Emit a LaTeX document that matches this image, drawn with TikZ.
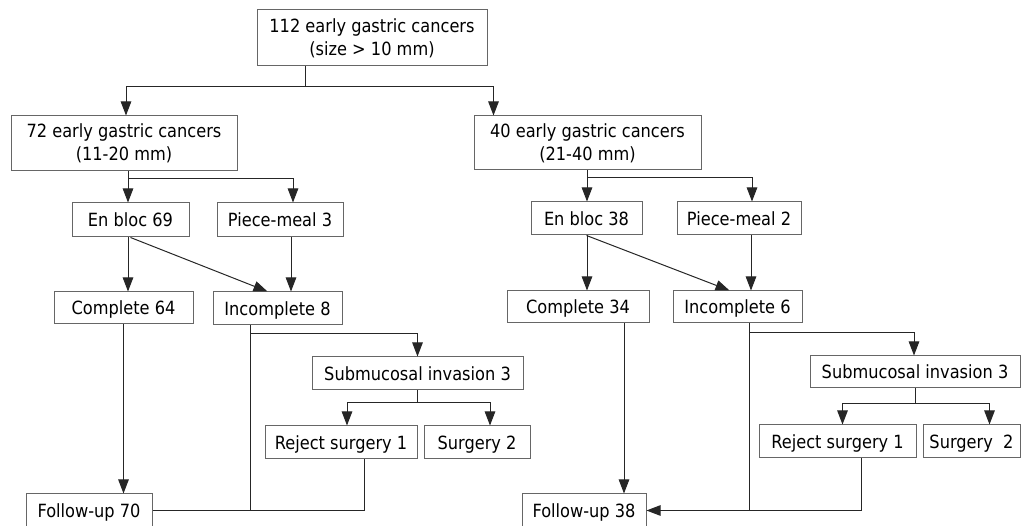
\documentclass[tikz,border=0pt]{standalone}
\usepackage{fontspec}
\setmainfont{DejaVu Sans}[FakeStretch=0.89]
\usetikzlibrary{arrows.meta}

\tikzset{
  flowbox/.style={draw=black!60,line width=1pt,inner sep=0pt,font=\fontsize{18.2}{23}\selectfont},
  onebox/.style={flowbox,text height=13.3pt,text depth=0pt},
  twobox/.style={flowbox,align=center},
  link/.style={black!85,line width=1pt}
}

\begin{document}
\begin{tikzpicture}[x=1pt,y=-1pt,>={Triangle[length=14pt,width=10.5pt]}]
  \useasboundingbox (0,0) rectangle (1021,526);
  \clip (0,0) rectangle (1021,526);
  % first two levels
  \node[twobox,minimum width=230,minimum height=56] (top) at (372,38) {112 early gastric cancers\\(size > 10 mm)};
  \node[twobox,minimum width=226,minimum height=55] (small) at (124,143.5) {72 early gastric cancers\\(11-20 mm)};
  \node[twobox,minimum width=227,minimum height=54] (large) at (587.5,143) {40 early gastric cancers\\(21-40 mm)};
  % left branch
  \node[onebox,minimum width=117,minimum height=34] (enbloc69) at (130.5,220) {En bloc 69};
  \node[onebox,minimum width=126,minimum height=34] (piece3) at (280,220) {Piece-meal 3};
  \node[onebox,minimum width=139,minimum height=32] (comp64) at (123.5,308) {Complete 64};
  \node[onebox,minimum width=129,minimum height=33] (incomp8) at (277.5,308.5) {Incomplete 8};
  \node[onebox,minimum width=211,minimum height=33] (subm3l) at (417.5,373.5) {Submucosal invasion 3};
  \node[onebox,minimum width=152,minimum height=33] (reject1l) at (341,442.5) {Reject surgery 1};
  \node[onebox,minimum width=106,minimum height=33] (surg2l) at (477,442.5) {Surgery 2};
  \node[onebox,minimum width=126,minimum height=33] (fu70) at (89,510.5) {Follow-up 70};
  % right branch
  \node[onebox,minimum width=111,minimum height=33] (enbloc38) at (586.5,218.5) {En bloc 38};
  \node[onebox,minimum width=124,minimum height=33] (piece2) at (739,218.5) {Piece-meal 2};
  \node[onebox,minimum width=142,minimum height=32] (comp34) at (578,307) {Complete 34};
  \node[onebox,minimum width=129,minimum height=32] (incomp6) at (737.5,307) {Incomplete 6};
  \node[onebox,minimum width=210,minimum height=32] (subm3r) at (915,372) {Submucosal invasion 3};
  \node[onebox,minimum width=157,minimum height=33] (reject1r) at (837.5,441.5) {Reject surgery 1};
  \node[onebox,minimum width=97,minimum height=33] (surg2r) at (971.5,441.5) {Surgery~~2};
  \node[onebox,minimum width=124,minimum height=33] (fu38) at (584,510.5) {Follow-up 38};

  % split of the 112 cases
  \coordinate (s0) at (305,87);
  \draw[link] (s0 |- top.south) -- (s0);
  \draw[link,->] (s0) -| ([xshift=2pt]small.north);
  \draw[link,->] (s0) -| ([xshift=20pt]large.north west);

  % 11-20 mm
  \coordinate (s1) at (128,179);
  \draw[link] (s1 |- small.south) -- (s1);
  \draw[link,->] (s1) -- (s1 |- enbloc69.north);
  \draw[link,->] (s1) -| ([xshift=13pt]piece3.north);
  \draw[link,->] (enbloc69.south -| s1) -- (comp64.north -| s1);
  \draw[link,->] (enbloc69.south) -- ([xshift=-10pt]incomp8.north);
  \draw[link,->] ([xshift=11pt]piece3.south) -- ([xshift=11pt]piece3.south |- incomp8.north);
  \draw[link,->] (comp64.south) -- (comp64.south |- fu70.north);
  \coordinate (s2) at (250,334);
  \draw[link] (s2 |- incomp8.south) -- (s2 |- fu70.east);
  \draw[link,->] (s2) -| (subm3l.north);
  \coordinate (s3) at (417,403);
  \draw[link] (s3 |- subm3l.south) -- (s3);
  \draw[link,->] (s3) -| ([xshift=6pt]reject1l.north);
  \draw[link,->] (s3) -| ([xshift=13pt]surg2l.north);
  \draw[link] ([xshift=23pt]reject1l.south) |- (fu70.east);

  % 21-40 mm
  \coordinate (s4) at (587,178);
  \draw[link] (s4 |- large.south) -- (s4);
  \draw[link,->] (s4) -- (s4 |- enbloc38.north);
  \draw[link,->] (s4) -| ([xshift=13pt]piece2.north);
  \draw[link,->] (enbloc38.south -| s4) -- (comp34.north -| s4);
  \draw[link,->] (enbloc38.south) -- ([xshift=-8pt]incomp6.north);
  \draw[link,->] ([xshift=12pt]piece2.south) -- ([xshift=12pt]piece2.south |- incomp6.north);
  \draw[link,->] ([xshift=46pt]comp34.south) -- ([xshift=46pt]comp34.south |- fu38.north);
  \coordinate (s5) at (749,333);
  \draw[link] (s5 |- incomp6.south) -- (s5 |- fu38.east);
  \draw[link,->] (s5) -| ([xshift=-1pt]subm3r.north);
  \coordinate (s6) at (915,404);
  \draw[link] (s6 |- subm3r.south) -- (s6);
  \draw[link,->] (s6) -| ([xshift=5pt]reject1r.north);
  \draw[link,->] (s6) -| ([xshift=18pt]surg2r.north);
  \draw[link,->] ([xshift=24pt]reject1r.south) |- (fu38.east);
\end{tikzpicture}
\end{document}
